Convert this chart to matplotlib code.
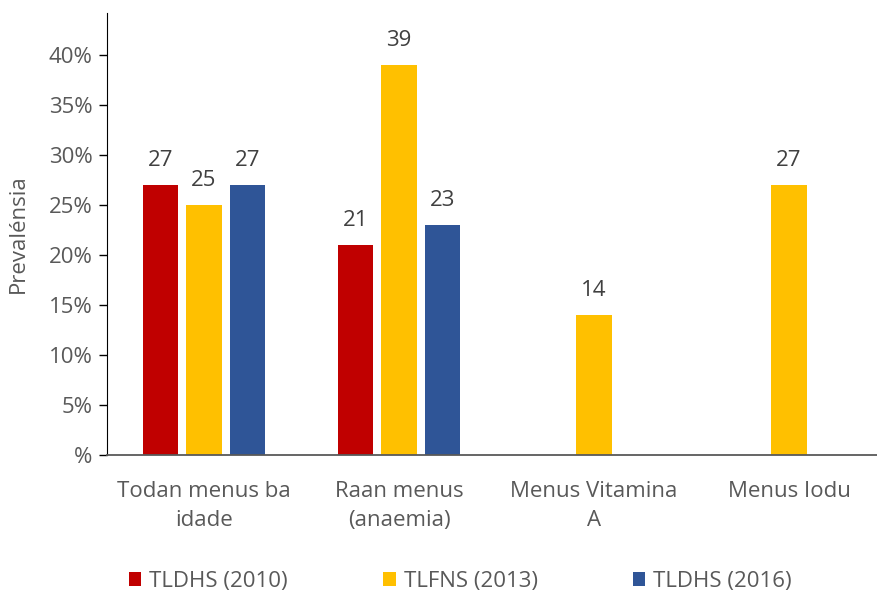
import matplotlib.pyplot as plt
import numpy as np

# values (prevalence, %)
categories = ["Todan menus ba\nidade", "Raan menus\n(anaemia)", "Menus Vitamina\nA", "Menus Iodu"]
series_names = ["TLDHS (2010)", "TLFNS (2013)", "TLDHS (2016)"]
tldhs_2010 = [27, 21, None, None]
tlfns_2013 = [25, 39, 14, 27]
tldhs_2016 = [27, 23, None, None]
colors = ["#C00000", "#FFC000", "#2F5597"]

plt.rcParams['font.family'] = ['Open Sans', 'DejaVu Sans']
txt_col = "#595959"
fs = 16

fig = plt.figure(figsize=(8.77, 5.92), dpi=100)
ax = fig.add_axes([106.5 / 877, 137 / 592, 780 / 877, 442 / 592])

x = np.arange(len(categories))
bw = 0.18
step = 0.222
handles = []
for k, (vals, col, name) in enumerate(zip([tldhs_2010, tlfns_2013, tldhs_2016], colors, series_names)):
    xs = [xi + (k - 1) * step for xi, v in zip(x, vals) if v is not None]
    ys = [v / 100 for v in vals if v is not None]
    b = ax.bar(xs, ys, width=bw, color=col, label=name)
    handles.append(b)
    for xx, yy in zip(xs, ys):
        ax.annotate(f"{yy * 100:.0f}", (xx, yy), xytext=(0, 13.5), textcoords="offset points",
                    ha="center", va="baseline", fontsize=fs, color="#404040")

ax.set_xlim(-0.5, 3.5)
ax.set_ylim(0, 0.442)
yt = np.arange(0, 0.41, 0.05)
ax.set_yticks(yt)
ax.set_yticklabels([f"{int(round(t * 100))}%" if t > 0 else "%" for t in yt])
ax.set_xticks(x)
ax.set_xticklabels(categories, linespacing=1.45)
ax.tick_params(axis='x', length=0, pad=19, labelsize=fs, labelcolor=txt_col)
ax.tick_params(axis='y', length=6, width=1, direction='out', labelsize=fs, labelcolor=txt_col, pad=4)

ax.spines['top'].set_visible(False)
ax.spines['right'].set_visible(False)
ax.spines['left'].set_color('black')
ax.spines['bottom'].set_color('#595959')
ax.spines['bottom'].set_linewidth(1.3)

ax.set_ylabel("Prevalénsia", fontsize=fs, color=txt_col, labelpad=14)

fig.legend(handles=handles, loc='center', bbox_to_anchor=(0.525, 0.018), ncol=3, frameon=False,
           fontsize=fs, handlelength=0.55, handleheight=0.55, handletextpad=0.36, columnspacing=4.3,
           labelcolor=txt_col)

fig.savefig("out.png", dpi=100)
